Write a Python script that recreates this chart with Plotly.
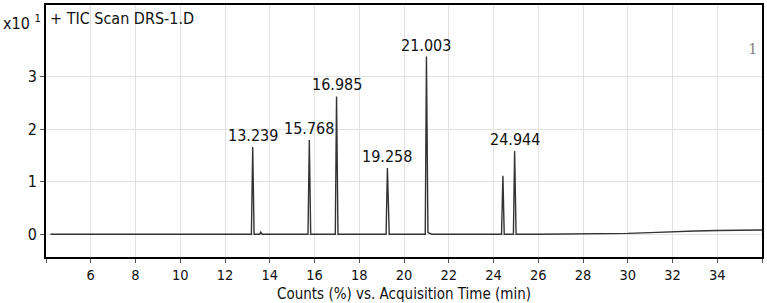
import plotly.graph_objects as go

# Chromatogram trace (acquisition time in min, counts x10^1)
times = [4.2, 13.18, 13.239, 13.30, 13.55, 13.60, 13.66, 15.71, 15.768, 15.83,
         16.93, 16.985, 17.05, 19.20, 19.258, 19.34, 20.95, 21.003, 21.07, 21.25,
         24.36, 24.42, 24.48, 24.89, 24.944, 25.01, 26.0, 28.0, 30.0, 31.0,
         32.0, 33.0, 34.0, 35.0, 36.0]
counts = [0.0, 0.0, 1.66, 0.0, 0.0, 0.04, 0.0, 0.0, 1.79, 0.0,
          0.0, 2.62, 0.0, 0.0, 1.26, 0.0, 0.0, 3.38, 0.03, 0.0,
          0.0, 1.11, 0.0, 0.0, 1.58, 0.0, 0.0, 0.005, 0.015, 0.03,
          0.05, 0.06, 0.07, 0.075, 0.08]

# Labelled peaks
peak_times = [13.239, 15.768, 16.985, 19.258, 21.003, 24.944]
peak_heights = [1.66, 1.79, 2.62, 1.26, 3.38, 1.58]
peak_labels = ["13.239", "15.768", "16.985", "19.258", "21.003", "24.944"]

x_ticks = [4, 6, 8, 10, 12, 14, 16, 18, 20, 22, 24, 26, 28, 30, 32, 34, 36]
x_tick_text = [" ", "6", "8", "10", "12", "14", "16", "18", "20", "22", "24", "26", "28", "30", "32", "34", " "]
y_ticks = [0, 1, 2, 3]
y_tick_text = ["0", "1", "2", "3"]

FONT = "DejaVu Sans Condensed, Liberation Sans, sans-serif"
FS = 16

fig = go.Figure()
fig.add_trace(go.Scatter(x=times, y=counts, mode="lines",
                         line=dict(color="#333333", width=1.4),
                         hoverinfo="skip", showlegend=False))

annotations = []
for t, h, lab in zip(peak_times, peak_heights, peak_labels):
    annotations.append(dict(x=t, y=h, text=lab, showarrow=False, xref="x", yref="y",
                            xanchor="center", yanchor="bottom", yshift=0,
                            font=dict(family=FONT, size=FS, color="#111")))
annotations.append(dict(x=0, y=1, xref="paper", yref="paper", text="+ TIC Scan DRS-1.D",
                        showarrow=False, xanchor="left", yanchor="top", xshift=2, yshift=-2,
                        font=dict(family=FONT, size=FS, color="#111")))
annotations.append(dict(x=0, y=1, xref="paper", yref="paper", text="x10 <sup>1</sup>",
                        showarrow=False, xanchor="right", yanchor="top", xshift=-3, yshift=-5,
                        font=dict(family=FONT, size=FS, color="#111")))
annotations.append(dict(x=1, y=3.53, xref="paper", yref="y", text="1",
                        showarrow=False, xanchor="right", yanchor="middle", xshift=-2,
                        font=dict(family="DejaVu Serif", size=15, color="#888")))
annotations.append(dict(x=0.5, y=0, xref="paper", yref="paper",
                        text="Counts (%) vs. Acquisition Time (min)",
                        showarrow=False, xanchor="center", yanchor="top", yshift=-26,
                        font=dict(family=FONT, size=15, color="#111")))

fig.update_layout(
    width=767, height=303,
    margin=dict(l=46, r=3, t=3, b=46),
    paper_bgcolor="white", plot_bgcolor="white",
    font=dict(family=FONT, size=FS, color="#111"),
    annotations=annotations,
    xaxis=dict(range=[4, 36], tickvals=x_ticks, ticktext=x_tick_text,
               showgrid=True, gridcolor="#e2e2e2", gridwidth=1,
               showline=True, linecolor="black", linewidth=2, mirror=True,
               ticks="outside", ticklen=4, tickcolor="#555", zeroline=False,
               tickfont=dict(family=FONT, size=14.5)),
    yaxis=dict(range=[-0.434, 4.36], tickvals=y_ticks, ticktext=y_tick_text,
               showgrid=True, gridcolor="#e2e2e2", gridwidth=1,
               showline=True, linecolor="black", linewidth=2, mirror=True,
               ticks="outside", ticklen=4, tickcolor="#555", zeroline=False),
)

fig.write_html("out.html", config={"displayModeBar": False},
               post_script="document.body.style.margin='0';document.body.style.overflow='hidden';")
